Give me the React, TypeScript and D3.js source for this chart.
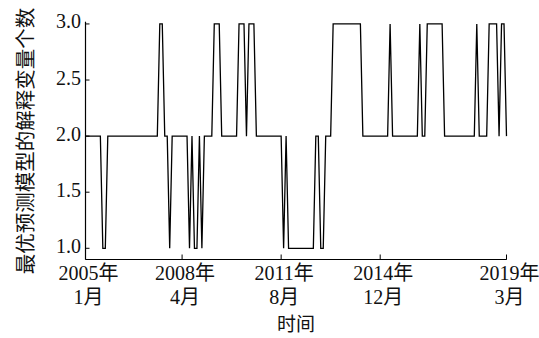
import React from 'react';
import * as d3 from 'd3';

// Monthly series from 2005-01 to 2019-03 (171 months)
const startYear = 2005;
const values: number[] = [
  2, 2, 2, 2, 2, 2, 2, 1, 1, 2,
  2, 2, 2, 2, 2, 2, 2, 2, 2, 2,
  2, 2, 2, 2, 2, 2, 2, 2, 2, 2,
  3, 3, 2, 2, 1, 2, 2, 2, 2, 2,
  2, 2, 1, 2, 1, 1, 2, 1, 2, 2,
  2, 2, 3, 3, 3, 2, 2, 2, 2, 2,
  2, 2, 3, 3, 3, 2, 3, 3, 3, 2,
  2, 2, 2, 2, 2, 2, 2, 2, 2, 2,
  1, 2, 1, 1, 1, 1, 1, 1, 1, 1,
  1, 1, 1, 2, 2, 1, 1, 2, 2, 2,
  3, 3, 3, 3, 3, 3, 3, 3, 3, 3,
  3, 3, 2, 2, 2, 2, 2, 2, 2, 2,
  2, 2, 2, 3, 2, 2, 2, 2, 2, 2,
  2, 2, 2, 2, 2, 3, 2, 2, 3, 3,
  3, 3, 3, 3, 3, 2, 2, 2, 2, 2,
  2, 2, 2, 2, 2, 2, 2, 2, 3, 2,
  2, 2, 2, 3, 3, 3, 3, 2, 3, 3,
  2,
];

const yTicks = [1.0, 1.5, 2.0, 2.5, 3.0];
const xTickYears = [2005, 2008, 2011, 2014, 2019];
const xTickMonths = [1, 4, 8, 12, 3];
const yLabel = '最优预测模型的解释变量个数';
const xLabel = '时间';

const LATIN = 'Liberation Serif';
const CJK = 'Noto Sans CJK SC';

export default function App() {
  const W = 539;
  const H = 338;
  const x = d3.scaleLinear().domain([0, values.length - 1]).range([85.5, 506.5]);
  const y = d3.scaleLinear().domain([0.9, 3.02]).range([259.5, 21.7]);
  const line = d3
    .line<number>()
    .x((_, i) => x(i))
    .y((d) => y(d));

  const [x0, x1] = x.range();
  const [yb, yt] = y.range();

  const xTicks = xTickYears.map((yr, i) => ({
    idx: (yr - startYear) * 12 + (xTickMonths[i] - 1),
    n1: `${yr}`,
    n2: `${xTickMonths[i]}`,
  }));

  const fs = 20;

  return (
    <svg
      width={W}
      height={H}
      style={{ position: 'absolute', left: 0, top: 0, background: '#fff' }}
    >
      <rect x={0} y={0} width={W} height={H} fill="#fff" />
      <line x1={x0} x2={x0} y1={yt} y2={yb} stroke="#000" strokeWidth={1.2} />
      <line x1={x0} x2={x1 + 0.2} y1={yb} y2={yb} stroke="#000" strokeWidth={1.2} />
      {yTicks.map((t) => (
        <g key={t}>
          <line x1={x0} x2={x0 + 4} y1={y(t)} y2={y(t)} stroke="#000" strokeWidth={1} />
          <text x={81} y={y(t) + 4.5} textAnchor="end" fontFamily={LATIN} fontSize={fs} fill="#111">
            {t.toFixed(1)}
          </text>
        </g>
      ))}
      {xTicks.map((t) => (
        <g key={t.idx}>
          <line x1={x(t.idx)} x2={x(t.idx)} y1={yb} y2={yb - 5} stroke="#000" strokeWidth={1} />
          <text x={x(t.idx) + 3} y={280} textAnchor="middle" fontSize={fs} fill="#111">
            <tspan fontFamily={LATIN}>{t.n1}</tspan>
            <tspan fontFamily={CJK}>年</tspan>
          </text>
          <text x={x(t.idx) + 3} y={304} textAnchor="middle" fontSize={fs} fill="#111">
            <tspan fontFamily={LATIN}>{t.n2}</tspan>
            <tspan fontFamily={CJK}>月</tspan>
          </text>
        </g>
      ))}
      <text x={296} y={331} textAnchor="middle" fontFamily={CJK} fontSize={19} fill="#111">
        {xLabel}
      </text>
      <text
        transform="translate(24,141) rotate(-90)"
        textAnchor="middle"
        dominantBaseline="central"
        fontFamily={CJK}
        fontSize={20.5}
        fill="#111"
      >
        {yLabel}
      </text>
      <path d={line(values) || ''} fill="none" stroke="#000" strokeWidth={1.3} strokeLinejoin="miter" />
    </svg>
  );
}
